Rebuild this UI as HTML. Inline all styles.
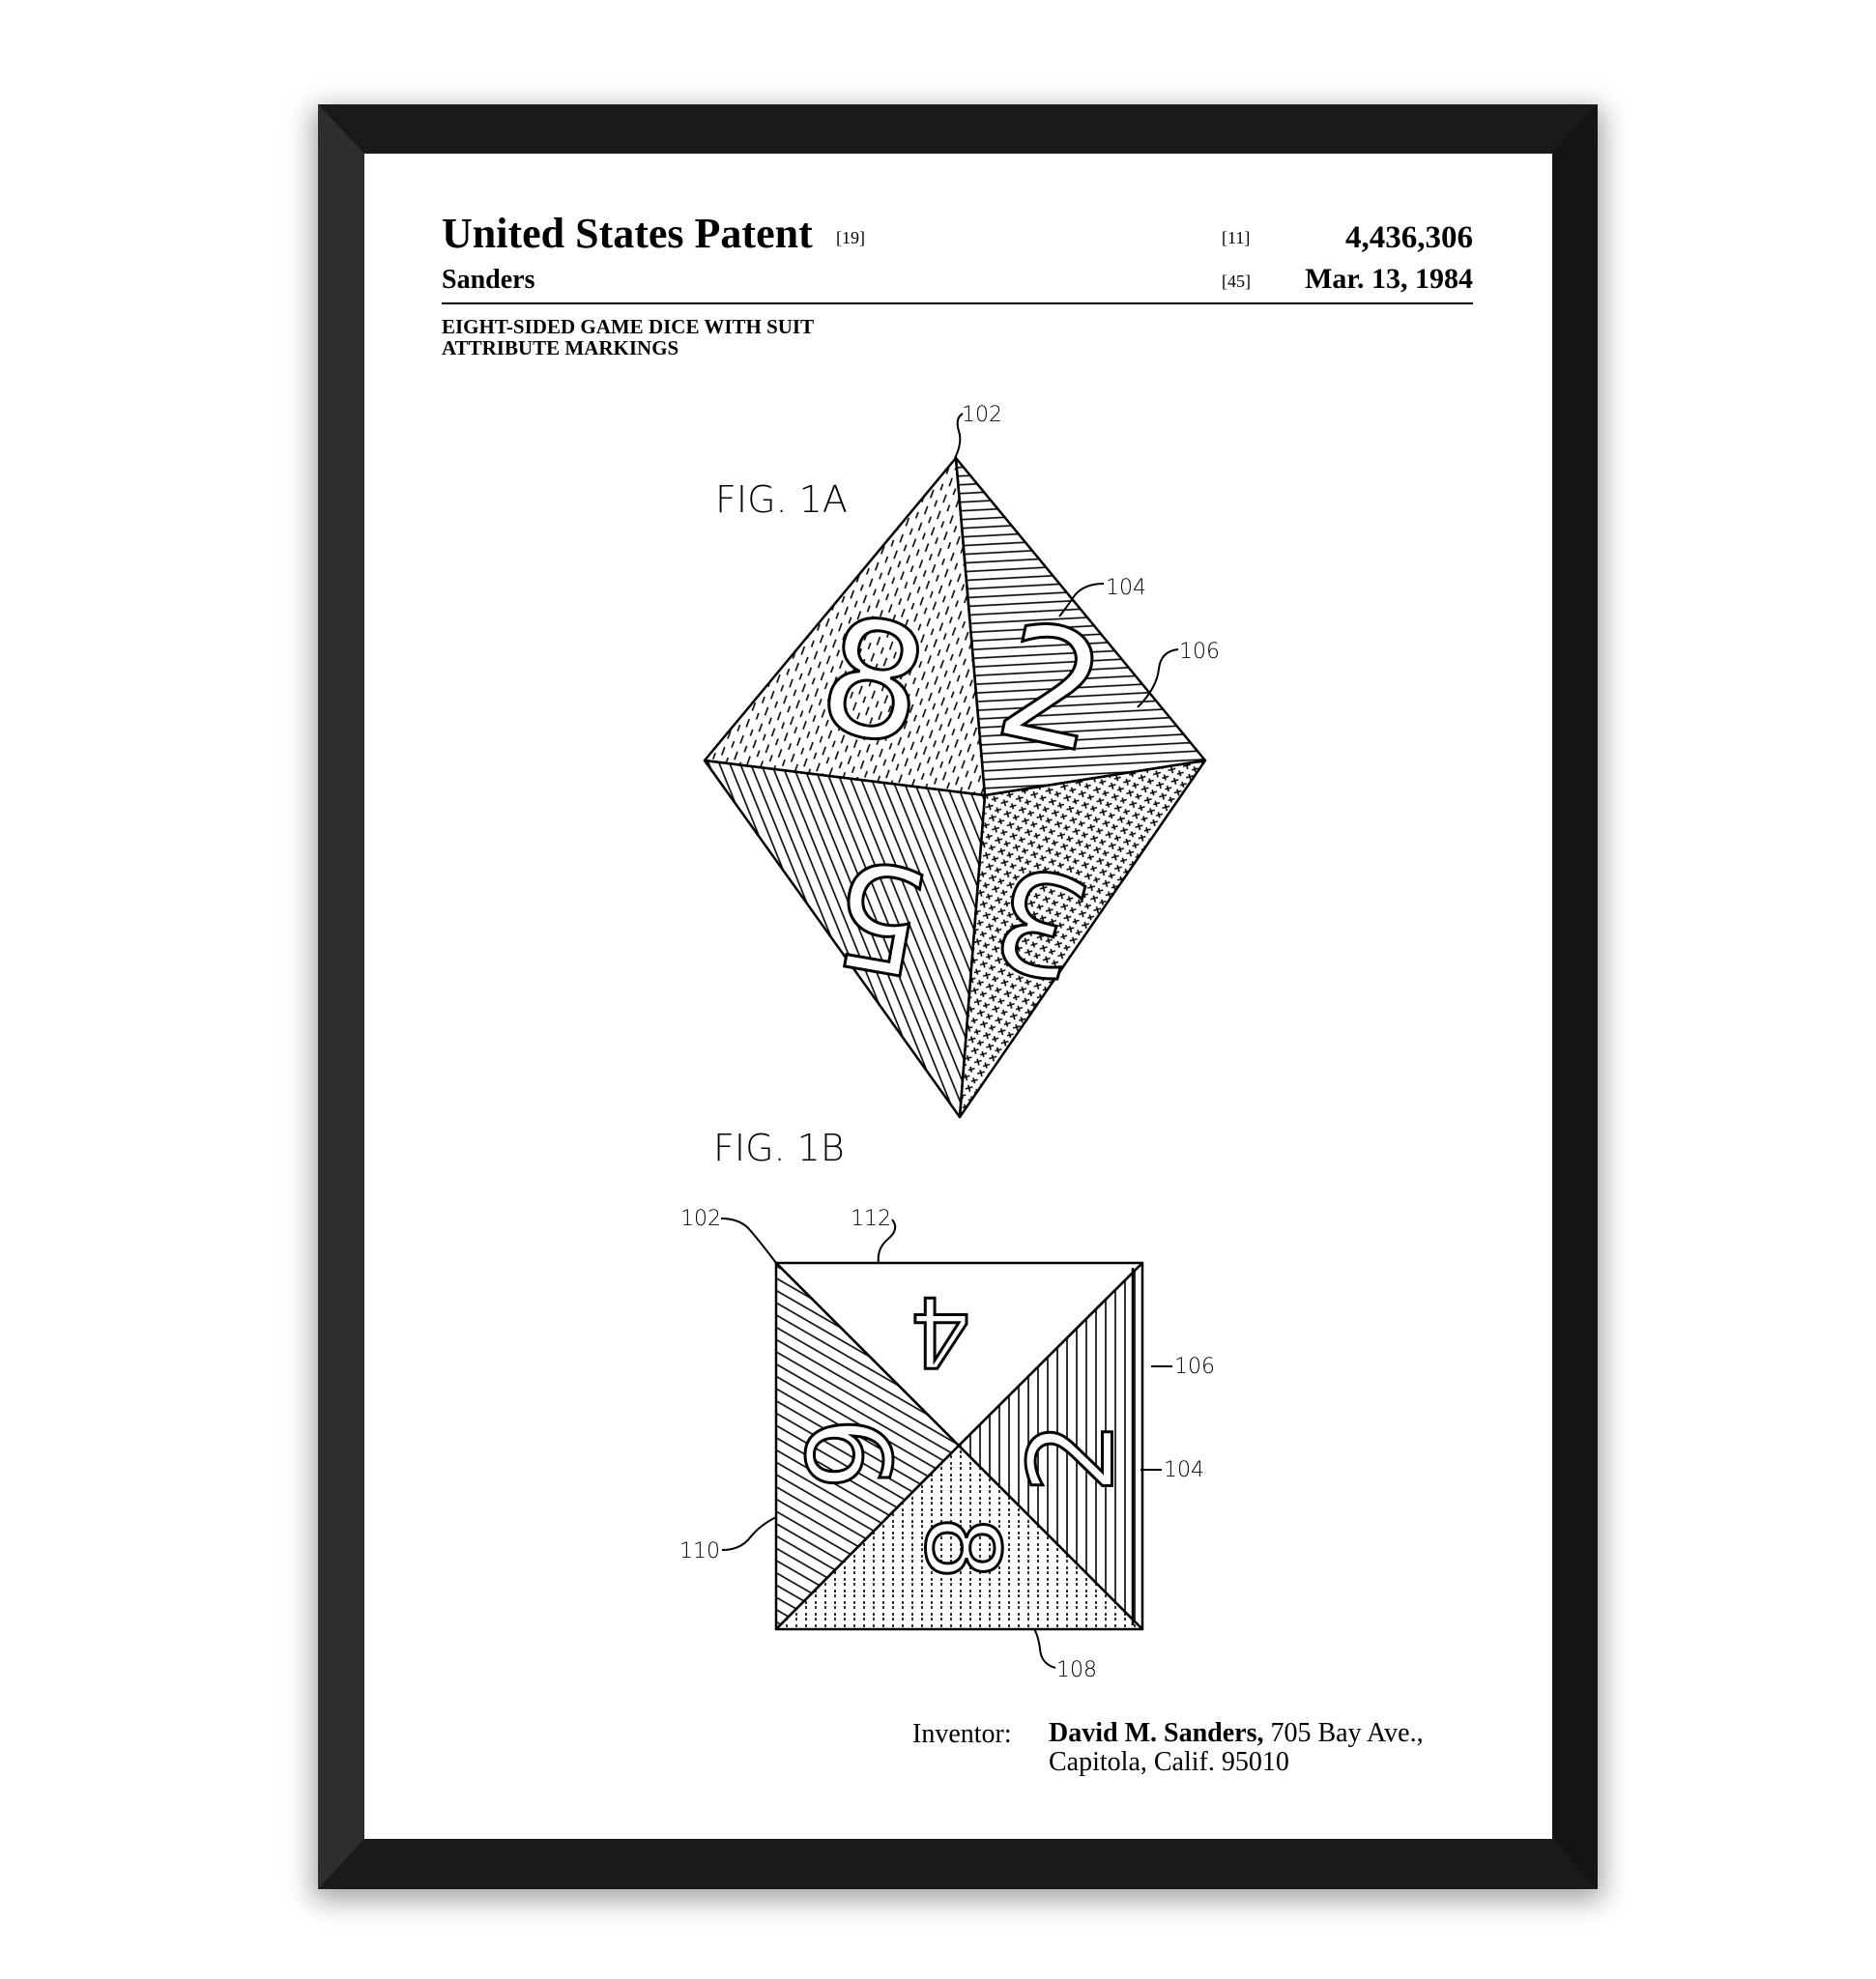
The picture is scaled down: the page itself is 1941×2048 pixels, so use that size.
<!DOCTYPE html>
<html><head><meta charset="utf-8"><style>
html,body{margin:0;padding:0;background:#fff;}
svg{display:block;}
</style></head><body>
<svg width="1941" height="2048" viewBox="0 0 1941 2048" xmlns="http://www.w3.org/2000/svg">
<defs>
<filter id="sh" x="-10%" y="-10%" width="120%" height="120%"><feGaussianBlur stdDeviation="14"/></filter>
<pattern id="dash" width="14" height="18" patternUnits="userSpaceOnUse" patternTransform="rotate(20)">
<line x1="3" y1="2" x2="3" y2="11" stroke="#000" stroke-width="1.6"/><line x1="10" y1="11" x2="10" y2="20" stroke="#000" stroke-width="1.6"/></pattern>
<pattern id="hor" width="10" height="9" patternUnits="userSpaceOnUse" patternTransform="rotate(-3)">
<line x1="0" y1="4" x2="10" y2="4" stroke="#000" stroke-width="1.6"/></pattern>
<pattern id="diag" width="10" height="10" patternUnits="userSpaceOnUse" patternTransform="rotate(-22)">
<line x1="4" y1="0" x2="4" y2="10" stroke="#000" stroke-width="1.6"/></pattern>
<pattern id="cross" width="16" height="12" patternUnits="userSpaceOnUse" patternTransform="rotate(-15)">
<path d="M1 3h8M5 0v7M9 9h7M12 6v6" stroke="#000" stroke-width="1.6" fill="none"/></pattern>
<pattern id="diag2" width="11" height="11" patternUnits="userSpaceOnUse" patternTransform="rotate(-60)">
<line x1="4" y1="0" x2="4" y2="11" stroke="#000" stroke-width="1.6"/></pattern>
<pattern id="vert" width="10" height="10" patternUnits="userSpaceOnUse">
<line x1="4" y1="0" x2="4" y2="10" stroke="#000" stroke-width="1.6"/></pattern>
<pattern id="dots" width="10" height="12" patternUnits="userSpaceOnUse">
<line x1="4" y1="1" x2="4" y2="9" stroke="#000" stroke-width="1.6" stroke-dasharray="3 2"/></pattern>
</defs>
<rect x="323" y="112" width="1336" height="1855" fill="#000" opacity="0.35" filter="url(#sh)"/>
<rect x="329" y="108" width="1324" height="1847" fill="#1a1a1a"/>
<polygon points="329,108 377,159 377,1903 329,1955" fill="#2e2e2e"/>
<polygon points="1653,108 1606,159 1606,1903 1653,1955" fill="#141414"/>
<rect x="377" y="159" width="1229" height="1744" fill="#fff"/>

<g font-family="Liberation Serif, serif" fill="#000">
<text x="457" y="256" font-size="44" font-weight="bold">United States Patent</text>
<text x="865" y="252" font-size="18">[19]</text>
<text x="1264" y="252" font-size="18">[11]</text>
<text x="1524" y="256" font-size="33" font-weight="bold" text-anchor="end">4,436,306</text>
<text x="457" y="298" font-size="28" font-weight="bold">Sanders</text>
<text x="1264" y="297" font-size="18">[45]</text>
<text x="1524" y="298" font-size="30" font-weight="bold" text-anchor="end">Mar. 13, 1984</text>
<line x1="457" y1="314" x2="1524" y2="314" stroke="#000" stroke-width="2"/>
<text x="457" y="345" font-size="21" font-weight="bold">EIGHT-SIDED GAME DICE WITH SUIT</text>
<text x="457" y="367" font-size="21" font-weight="bold">ATTRIBUTE MARKINGS</text>
<text x="944" y="1803" font-size="28">Inventor:</text>
<text x="1085" y="1802" font-size="28"><tspan font-weight="bold">David M. Sanders,</tspan> 705 Bay Ave.,</text>
<text x="1085" y="1832" font-size="28">Capitola, Calif. 95010</text>
</g>

<!-- FIG 1A -->
<g stroke="#000" stroke-width="2.5" stroke-linejoin="round">
<polygon points="989,474 729,787 1019,823" fill="url(#dash)"/>
<polygon points="989,474 1019,823 1247,787" fill="url(#hor)"/>
<polygon points="729,787 1019,823 993,1156" fill="url(#diag)"/>
<polygon points="1019,823 1247,787 993,1156" fill="url(#cross)"/>
</g>
<g font-family="DejaVu Sans, sans-serif" fill="#fff" stroke="#000" stroke-width="3" dominant-baseline="central" text-anchor="middle">
<text font-size="165" transform="translate(904,705) rotate(12)">8</text>
<text font-size="165" transform="translate(1088,712) rotate(12)">2</text>
<text font-size="150" transform="translate(910,947) rotate(190)">5</text>
<text font-size="145" transform="translate(1077,953) rotate(195)">3</text>
</g>
<g font-family="DejaVu Sans, sans-serif" fill="#000" font-weight="200">
<text x="740" y="530" font-size="38">FIG. 1A</text>
<text x="995" y="436" font-size="22">102</text>
<text x="1144" y="615" font-size="22">104</text>
<text x="1220" y="681" font-size="22">106</text>
<text x="738" y="1201" font-size="38">FIG. 1B</text>
<text x="704" y="1268" font-size="22">102</text>
<text x="880" y="1268" font-size="22">112</text>
<text x="1215" y="1421" font-size="22">106</text>
<text x="1204" y="1528" font-size="22">104</text>
<text x="703" y="1612" font-size="22">110</text>
<text x="1093" y="1735" font-size="22">108</text>
</g>
<g stroke="#000" stroke-width="2" fill="none">
<path d="M996,428 q-8,5 -4,18 q4,12 -4,28"/>
<path d="M1142,604 q-20,0 -30,12 q-8,12 -16,22"/>
<path d="M1219,672 q-18,2 -20,20 q-2,20 -22,40"/>
<path d="M746,1261 q20,0 30,12 q12,14 27,34"/>
<path d="M923,1262 q8,10 -4,20 q-12,10 -10,25"/>
<path d="M1213,1414 h-22"/>
<path d="M1202,1521 h-22"/>
<path d="M747,1604 q20,0 30,-14 q10,-12 26,-20"/>
<path d="M1092,1726 q-15,-4 -16,-20 q-2,-14 -6,-20"/>
</g>
<!-- FIG 1B -->
<g stroke="#000" stroke-width="2.5" stroke-linejoin="round">
<polygon points="803,1307 1182,1307 992,1496" fill="#fff"/>
<polygon points="803,1307 992,1496 803,1686" fill="url(#diag2)"/>
<polygon points="1182,1307 1182,1686 992,1496" fill="url(#vert)"/>
<polygon points="803,1686 992,1496 1182,1686" fill="url(#dots)"/>
<line x1="1172" y1="1312" x2="1172" y2="1682"/>
</g>
<g font-family="DejaVu Sans, sans-serif" fill="#fff" stroke="#000" stroke-width="3" dominant-baseline="central" text-anchor="middle">
<text font-size="100" transform="translate(973,1378) rotate(180)">4</text>
<text font-size="120" transform="translate(875,1504) rotate(90)">6</text>
<text font-size="120" transform="translate(1110,1508) rotate(-90)">2</text>
<text font-size="105" transform="translate(995,1602) rotate(90)">8</text>
</g>
</svg>
</body></html>
